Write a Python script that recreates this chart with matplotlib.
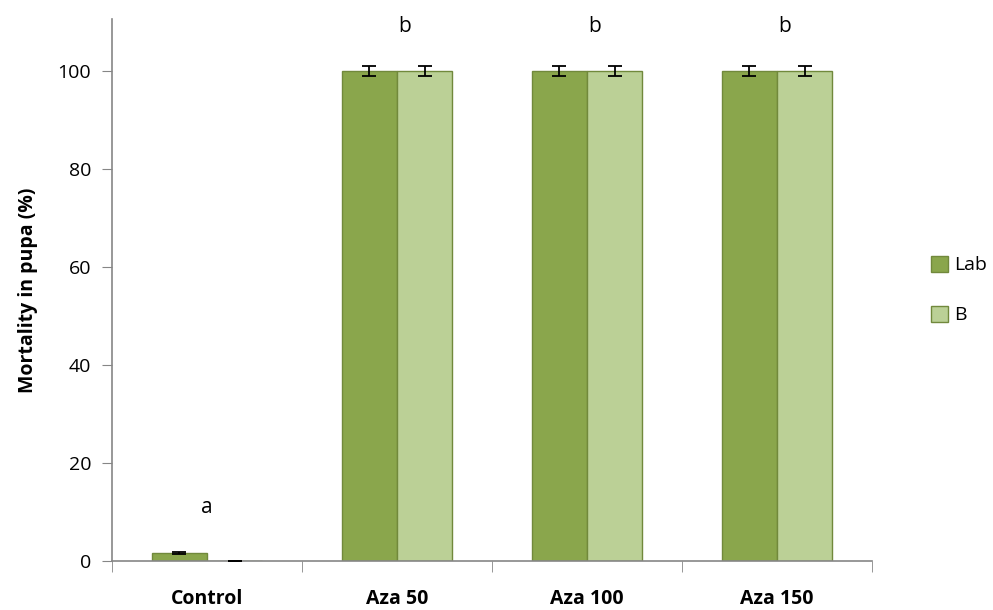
import matplotlib
matplotlib.use("Agg")
import matplotlib.pyplot as plt
import numpy as np

categories = ["Control", "Aza 50", "Aza 100", "Aza 150"]
lab_vals = [1.7, 100, 100, 100]
b_vals = [0.0, 100, 100, 100]
lab_err = [0.2, 1.0, 1.0, 1.0]
b_err = [0.1, 1.0, 1.0, 1.0]
letters = ["a", "b", "b", "b"]
letter_y = [11, 109, 109, 109]
series_names = ["Lab", "B"]

plt.rcParams['font.family'] = ['Open Sans', 'DejaVu Sans']

fig = plt.figure(figsize=(9.93, 6.10), dpi=100)
ax = fig.add_axes([112/993, 1-561/610, (872-112)/993, (561-19)/610])

x = np.arange(len(categories))
w = 0.29
c_lab = "#8AA64C"
c_b = "#BBD096"
edge = "#71893C"
ax.bar(x - w/2, lab_vals, w, color=c_lab, edgecolor=edge, linewidth=1, label=series_names[0], zorder=2)
ax.bar(x + w/2, b_vals, w, color=c_b, edgecolor=edge, linewidth=1, label=series_names[1], zorder=2)
ax.errorbar(x - w/2, lab_vals, yerr=lab_err, fmt="none", ecolor="black", elinewidth=1.3, capsize=5, capthick=1.3, zorder=3)
ax.errorbar(x + w/2, b_vals, yerr=b_err, fmt="none", ecolor="black", elinewidth=1.3, capsize=5, capthick=1.3, zorder=3)

for xi, t, yv in zip(x, letters, letter_y):
    ax.text(xi + (0.04 if t == "b" else 0.0), yv, t, ha="center", va="center", fontsize=15)

ax.set_xlim(-0.5, len(categories) - 0.5)
ax.set_ylim(0, 110.6)
ax.set_yticks([0, 20, 40, 60, 80, 100])
ax.tick_params(axis="y", labelsize=14, direction="out", length=7, color="#868686", pad=8)
ax.set_xticks(x)
ax.set_xticklabels(categories, fontsize=14, fontweight="bold")
ax.set_xticks(np.arange(len(categories) + 1) - 0.5, minor=True)
ax.tick_params(axis="x", which="major", length=0, pad=20)
ax.tick_params(axis="x", which="minor", length=8, color="#868686", direction="out")

for s in ["top", "right"]:
    ax.spines[s].set_visible(False)
for s in ["left", "bottom"]:
    ax.spines[s].set_color("#868686")
    ax.spines[s].set_linewidth(1.2)

ax.set_ylabel("Mortality in pupa (%)", fontsize=14, fontweight="bold", labelpad=14)

leg = ax.legend(loc="center left", bbox_to_anchor=(1.077, 0.5), frameon=False, fontsize=14,
                handlelength=0.9, handleheight=0.9, handletextpad=0.3, labelspacing=1.6,
                borderpad=0, borderaxespad=0)
fig.savefig("out.png", dpi=100)
